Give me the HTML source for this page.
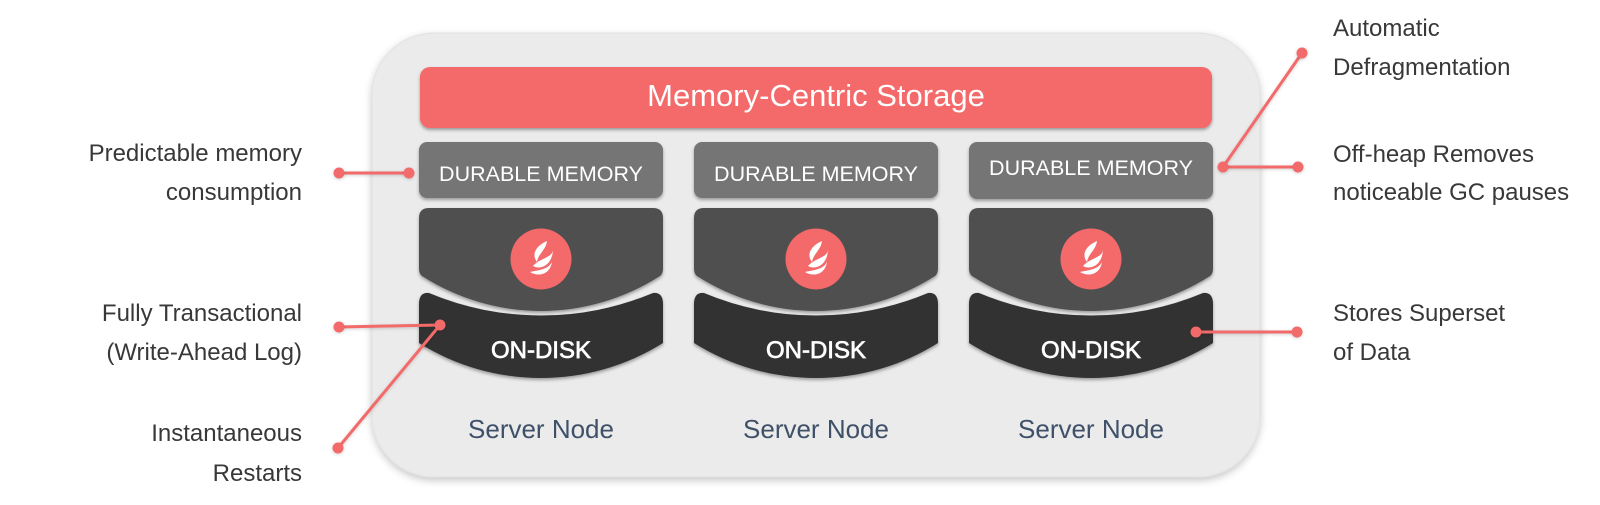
<!DOCTYPE html>
<html>
<head>
<meta charset="utf-8">
<style>
  html, body { margin: 0; padding: 0; background: #ffffff; }
  body { width: 1600px; height: 505px; overflow: hidden; }
  svg { display: block; }
  .lbl { font-family: "Liberation Sans", Arial, sans-serif; font-size: 24px; fill: #383838; }
  .dm { font-family: "Liberation Sans", Arial, sans-serif; font-size: 21.5px; fill: #ffffff; }
  .od { font-family: "Liberation Sans", Arial, sans-serif; font-size: 24px; fill: #ffffff; stroke: #ffffff; stroke-width: 0.7px; }
  .sn { font-family: "Liberation Sans", Arial, sans-serif; font-size: 26px; fill: #3f5069; }
  .mc { font-family: "Liberation Sans", Arial, sans-serif; font-size: 31px; fill: #ffffff; }
</style>
</head>
<body>
<svg width="1600" height="505" viewBox="0 0 1600 505" xmlns="http://www.w3.org/2000/svg">
  <defs>
    <filter id="cs" x="-5%" y="-5%" width="110%" height="115%">
      <feDropShadow dx="0" dy="3" stdDeviation="4" flood-color="#000" flood-opacity="0.22"/>
    </filter>
    <filter id="bs" x="-5%" y="-10%" width="110%" height="130%">
      <feDropShadow dx="0" dy="2" stdDeviation="1.6" flood-color="#000" flood-opacity="0.35"/>
    </filter>
    <filter id="ls" x="-10%" y="-50%" width="120%" height="200%">
      <feDropShadow dx="0" dy="1" stdDeviation="1.5" flood-color="#000" flood-opacity="0.18"/>
    </filter>
    <g id="flame" fill="#ffffff">
      <path d="M6,-18 C-5,-13 -10,-5 -4,3 C-3,-5 5,-9 6,-18 Z"/>
      <path d="M12,-9 C11,-1 -1,-1 -8,7 C-1,11 11,7 12,-9 Z"/>
      <path d="M11,3 C7,11 -3,11 -11,13 C-3,18 9,16 11,3 Z"/>
    </g>
  </defs>

  <!-- container -->
  <rect x="372" y="33" width="888" height="444" rx="62" ry="62" fill="#ebebeb" stroke="#e2e2e2" stroke-width="1" filter="url(#cs)"/>

  <!-- memory-centric storage bar -->
  <rect x="420" y="67" width="792" height="61" rx="10" ry="10" fill="#f4696a" filter="url(#bs)"/>
  <text class="mc" x="816" y="106" text-anchor="middle">Memory-Centric Storage</text>

  <!-- column 1 -->
  <g>
    <rect x="419" y="142" width="244" height="56" rx="8" ry="8" fill="#757575" filter="url(#bs)"/>
    <text class="dm" x="541" y="181" text-anchor="middle">DURABLE MEMORY</text>
    <path d="M419,218 Q419,208 429,208 H653 Q663,208 663,218 V268 Q663,274 660,276 A 220 220 0 0 1 422,276 Q419,274 419,268 Z" fill="#505050" filter="url(#bs)"/>
    <path d="M419,304 Q419,292 429,293 A 290 290 0 0 0 653,293 Q663,292 663,304 V343 A 230 230 0 0 1 419,343 Z" fill="#333333" filter="url(#bs)"/>
    <text class="od" x="541" y="358" text-anchor="middle">ON-DISK</text>
    <text class="sn" x="541" y="438" text-anchor="middle">Server Node</text>
    <circle cx="541" cy="259" r="30.5" fill="#f4696a"/>
    <use href="#flame" x="541" y="259"/>
  </g>

  <!-- column 2 -->
  <g>
    <rect x="694" y="142" width="244" height="56" rx="8" ry="8" fill="#757575" filter="url(#bs)"/>
    <text class="dm" x="816" y="181" text-anchor="middle">DURABLE MEMORY</text>
    <path d="M694,218 Q694,208 704,208 H928 Q938,208 938,218 V268 Q938,274 935,276 A 220 220 0 0 1 697,276 Q694,274 694,268 Z" fill="#505050" filter="url(#bs)"/>
    <path d="M694,304 Q694,292 704,293 A 290 290 0 0 0 928,293 Q938,292 938,304 V343 A 230 230 0 0 1 694,343 Z" fill="#333333" filter="url(#bs)"/>
    <text class="od" x="816" y="358" text-anchor="middle">ON-DISK</text>
    <text class="sn" x="816" y="438" text-anchor="middle">Server Node</text>
    <circle cx="816" cy="259" r="30.5" fill="#f4696a"/>
    <use href="#flame" x="816" y="259"/>
  </g>

  <!-- column 3 -->
  <g>
    <rect x="969" y="142" width="244" height="57" rx="8" ry="8" fill="#757575" filter="url(#bs)"/>
    <text class="dm" x="1091" y="175" text-anchor="middle">DURABLE MEMORY</text>
    <path d="M969,218 Q969,208 979,208 H1203 Q1213,208 1213,218 V268 Q1213,274 1210,276 A 220 220 0 0 1 972,276 Q969,274 969,268 Z" fill="#505050" filter="url(#bs)"/>
    <path d="M969,304 Q969,292 979,293 A 290 290 0 0 0 1203,293 Q1213,292 1213,304 V343 A 230 230 0 0 1 969,343 Z" fill="#333333" filter="url(#bs)"/>
    <text class="od" x="1091" y="358" text-anchor="middle">ON-DISK</text>
    <text class="sn" x="1091" y="438" text-anchor="middle">Server Node</text>
    <circle cx="1091" cy="259" r="30.5" fill="#f4696a"/>
    <use href="#flame" x="1091" y="259"/>
  </g>

  <!-- connectors -->
  <g stroke="#f26b6b" stroke-width="3" fill="none" stroke-linecap="round" filter="url(#ls)">
    <line x1="339" y1="173" x2="409" y2="173"/>
    <line x1="339" y1="327" x2="440" y2="325"/>
    <line x1="440" y1="325" x2="338" y2="448"/>
    <line x1="1223" y1="167" x2="1298" y2="167"/>
    <line x1="1223" y1="167" x2="1302" y2="53"/>
    <line x1="1196" y1="332" x2="1297" y2="332"/>
  </g>
  <g fill="#f26b6b" filter="url(#ls)">
    <circle cx="339" cy="173" r="5.5"/>
    <circle cx="409" cy="173" r="5.5"/>
    <circle cx="339" cy="327" r="5.5"/>
    <circle cx="440" cy="325" r="5.5"/>
    <circle cx="338" cy="448" r="5.5"/>
    <circle cx="1223" cy="167" r="5.5"/>
    <circle cx="1298" cy="167" r="5.5"/>
    <circle cx="1302" cy="53" r="5.5"/>
    <circle cx="1196" cy="332" r="5.5"/>
    <circle cx="1297" cy="332" r="5.5"/>
  </g>

  <!-- left labels -->
  <text class="lbl" x="302" y="161" text-anchor="end">Predictable memory</text>
  <text class="lbl" x="302" y="200" text-anchor="end">consumption</text>
  <text class="lbl" x="302" y="321" text-anchor="end">Fully Transactional</text>
  <text class="lbl" x="302" y="360" text-anchor="end">(Write-Ahead Log)</text>
  <text class="lbl" x="302" y="441" text-anchor="end">Instantaneous</text>
  <text class="lbl" x="302" y="481" text-anchor="end">Restarts</text>

  <!-- right labels -->
  <text class="lbl" x="1333" y="36">Automatic</text>
  <text class="lbl" x="1333" y="75">Defragmentation</text>
  <text class="lbl" x="1333" y="162">Off-heap Removes</text>
  <text class="lbl" x="1333" y="200">noticeable GC pauses</text>
  <text class="lbl" x="1333" y="321">Stores Superset</text>
  <text class="lbl" x="1333" y="360">of Data</text>
</svg>
</body>
</html>
